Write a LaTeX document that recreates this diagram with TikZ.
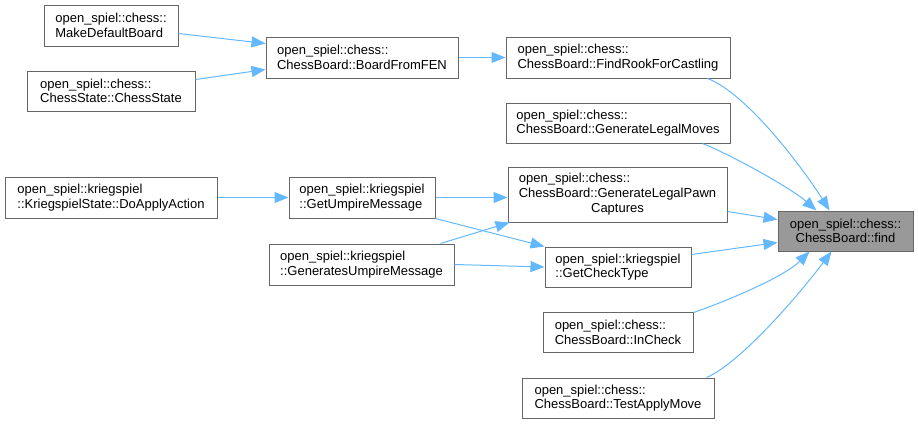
\documentclass[tikz,border=0pt]{standalone}
\usepackage{fontspec}
\setmainfont{Liberation Sans}
\usetikzlibrary{arrows.meta,calc}
\definecolor{edgeblue}{HTML}{63B8FF}
\definecolor{boxgray}{HTML}{666666}
\definecolor{findfill}{HTML}{999999}
\begin{document}
\begin{tikzpicture}[x=1pt,y=-1pt,
  fnbox/.style={draw=boxgray,line width=1pt,fill=white,inner sep=0pt,align=left,
    font=\fontsize{13}{14.7}\selectfont},
  edge/.style={draw=edgeblue,line width=1pt,-{Triangle[length=14pt,width=11pt]}}]
\useasboundingbox (0,0) rectangle (918,423);

\node[fnbox,minimum width=134pt,minimum height=41pt] (mdb) at (111,25.5) {open\_spiel::chess::\\MakeDefaultBoard};
\node[fnbox,minimum width=168pt,minimum height=40pt] (cs) at (111,91) {open\_spiel::chess::\\ChessState::ChessState};
\node[fnbox,minimum width=192pt,minimum height=41pt] (bff) at (362,57.5) {open\_spiel::chess::\\ChessBoard::BoardFromFEN};
\node[fnbox,minimum width=224pt,minimum height=41pt] (fr) at (618,57.5) {open\_spiel::chess::\\ChessBoard::FindRookForCastling};
\node[fnbox,minimum width=224pt,minimum height=40pt] (glm) at (618,123) {open\_spiel::chess::\\ChessBoard::GenerateLegalMoves};
\node[fnbox,minimum width=219pt,minimum height=55pt] (glpc) at (617.5,194.5) {\renewcommand\arraystretch{1}\begin{tabular}{@{}l@{}}open\_spiel::chess::\\ChessBoard::GenerateLegalPawn\\\multicolumn{1}{@{}c@{}}{Captures}\end{tabular}};
\node[fnbox,fill=findfill,align=center,minimum width=135pt,minimum height=40pt] (find) at (845.5,231) {open\_spiel::chess::\\ChessBoard::find};
\node[fnbox,minimum width=146pt,minimum height=40pt] (gct) at (618,267) {open\_spiel::kriegspiel\\::GetCheckType};
\node[fnbox,minimum width=150pt,minimum height=40pt] (inc) at (618,332) {open\_spiel::chess::\\ChessBoard::InCheck};
\node[fnbox,minimum width=192pt,minimum height=40pt] (tam) at (618,398) {open\_spiel::chess::\\ChessBoard::TestApplyMove};
\node[fnbox,minimum width=212pt,minimum height=41pt] (daa) at (111,197.5) {open\_spiel::kriegspiel\\::KriegspielState::DoApplyAction};
\node[fnbox,minimum width=146pt,minimum height=41pt] (gum) at (362,197.5) {open\_spiel::kriegspiel\\::GetUmpireMessage};
\node[fnbox,minimum width=185pt,minimum height=41pt] (gsum) at (361.5,264.5) {open\_spiel::kriegspiel\\::GeneratesUmpireMessage};

\draw[edge] ($(mdb.north east)+(0,29)$) -- ($(bff.north west)+(0,7)$);
\draw[edge] ($(cs.north east)+(0,9)$) -- ($(bff.north west)+(0,33)$);
\draw[edge] (bff.east) -- (fr.west);
\draw[edge] ($(fr.south east)+(-23,0)$) .. controls +(40,15) and +(-25,-40) .. ($(find.north west)+(52,0)$);
\draw[edge] ($(glm.south east)+(-28,0)$) .. controls +(30,12) and +(-25,-22) .. ($(find.north west)+(39,0)$);
\draw[edge] ($(glpc.north east)+(0,45)$) -- ($(find.north west)+(0,9)$);
\draw[edge] ($(gct.north east)+(0,8)$) -- ($(find.north west)+(0,32)$);
\draw[edge] ($(inc.north east)+(0,1)$) .. controls +(35,-12) and +(-25,25) .. ($(find.south west)+(32,0)$);
\draw[edge] ($(tam.north east)+(-8,0)$) .. controls +(35,-15) and +(-30,40) .. ($(find.south west)+(54,0)$);
\draw[edge] (daa.east) -- (gum.west);
\draw[edge] (gum.east) -- (gum.east -| glpc.west);
\draw[edge] (gum.south east) -- (gct.north west);
\draw[edge] ($(gsum.north east)+(-14,0)$) -- ($(glpc.south west)+(2,0)$);
\draw[edge] (gsum.east) -- ($(gct.west)+(0,0)$);
\end{tikzpicture}
\end{document}
